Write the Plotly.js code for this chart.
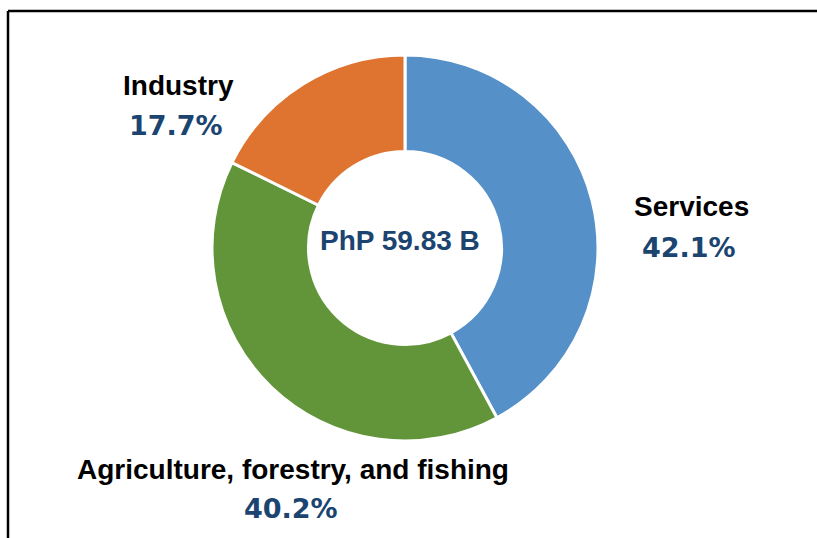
<!DOCTYPE html>
<html>
<head>
<meta charset="utf-8">
<script src="https://cdn.plot.ly/plotly-3.0.1.min.js"></script>
<style>
html, body { margin: 0; padding: 0; background: #fff; }
#chart { width: 817px; height: 538px; }
</style>
</head>
<body>
<div id="chart"></div>
<script>
var sectors = ["Services", "Agriculture, forestry, and fishing", "Industry"];
var shares = [42.1, 40.2, 17.7];
var sectorColors = ["#5590C9", "#62953A", "#DE7430"];
var totalLabel = "PhP 59.83 B";

var W = 817, H = 538;
function px(x) { return x / W; }
function py(y) { return 1 - y / H; }

var cx = 405, cy = 248, R = 193;

var trace = {
  type: "pie",
  labels: sectors,
  values: shares,
  sort: false,
  direction: "clockwise",
  rotation: 0,
  hole: 0.5,
  textinfo: "none",
  hoverinfo: "label+percent",
  marker: { colors: sectorColors, line: { color: "#ffffff", width: 3 } },
  domain: { x: [px(cx - R), px(cx + R)], y: [py(cy + R), py(cy - R)] },
  showlegend: false
};

var labelPos = [
  { x: 691, y: 207, px: 689, py: 247 },
  { x: 293, y: 469, px: 291, py: 508 },
  { x: 178, y: 86, px: 176, py: 126 }
];

var annotations = [];
for (var i = 0; i < sectors.length; i++) {
  annotations.push({
    xref: "paper", yref: "paper", x: px(labelPos[i].x), y: py(labelPos[i].y),
    xanchor: "center", yanchor: "middle", showarrow: false,
    text: sectors[i],
    font: { family: "Liberation Sans, Arial, sans-serif", size: 28, color: "#000000", weight: "bold" }
  });
  annotations.push({
    xref: "paper", yref: "paper", x: px(labelPos[i].px), y: py(labelPos[i].py),
    xanchor: "center", yanchor: "middle", showarrow: false,
    text: shares[i].toFixed(1) + "%",
    font: { family: "DejaVu Sans, sans-serif", size: 27, color: "#1B4470", weight: "bold" }
  });
}
annotations.push({
  xref: "paper", yref: "paper", x: px(400), y: py(240),
  xanchor: "center", yanchor: "middle", showarrow: false,
  text: totalLabel,
  font: { family: "Liberation Sans, Arial, sans-serif", size: 28, color: "#1B4470", weight: "bold" }
});

var layout = {
  width: W, height: H,
  margin: { l: 0, r: 0, t: 0, b: 0 },
  paper_bgcolor: "#ffffff",
  plot_bgcolor: "#ffffff",
  annotations: annotations,
  shapes: [
    { type: "line", xref: "paper", yref: "paper", x0: px(8), x1: px(830), y0: py(11), y1: py(11), line: { color: "#000000", width: 2.5 } },
    { type: "line", xref: "paper", yref: "paper", x0: px(8), x1: px(8), y0: py(11), y1: py(560), line: { color: "#000000", width: 2.5 } }
  ]
};

Plotly.newPlot("chart", [trace], layout, { displayModeBar: false, staticPlot: true });
</script>
</body>
</html>
